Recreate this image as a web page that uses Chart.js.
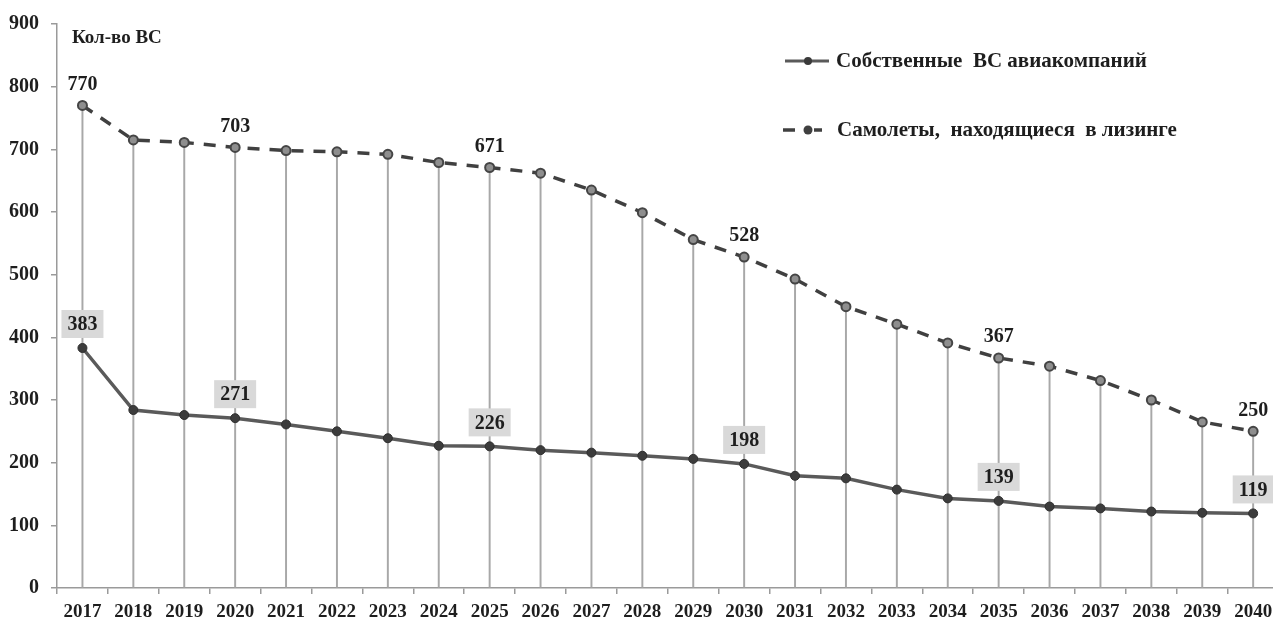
<!DOCTYPE html>
<html lang="ru">
<head>
<meta charset="utf-8">
<title>Кол-во ВС</title>
<script src="https://cdn.jsdelivr.net/npm/chart.js@4.4.1/dist/chart.umd.min.js"></script>
<style>
  html, body { margin: 0; padding: 0; background: #fff; overflow: hidden; }
</style>
</head>
<body>
<canvas id="myChart" width="1273" height="619"></canvas>
<script>
// годы прогноза
const years = [2017, 2018, 2019, 2020, 2021, 2022, 2023, 2024, 2025, 2026, 2027, 2028,
               2029, 2030, 2031, 2032, 2033, 2034, 2035, 2036, 2037, 2038, 2039, 2040];

// собственные ВС авиакомпаний
const ownFleet = [383, 284, 276, 271, 261, 250, 239, 227, 226, 220, 216, 211,
                  206, 198, 179, 175, 157, 143, 139, 130, 127, 122, 120, 119];

// самолеты, находящиеся в лизинге
const leasedFleet = [770, 715, 711, 703, 698, 696, 692, 679, 671, 662, 635, 599,
                     556, 528, 493, 449, 421, 391, 367, 354, 331, 300, 265, 250];

// подписи значений (индексы годов)
const labelIdx = [0, 3, 8, 13, 18, 23];

const yTicks = [0, 100, 200, 300, 400, 500, 600, 700, 800, 900];

const seriesNames = ['Собственные  ВС авиакомпаний', 'Самолеты,  находящиеся  в лизинге'];
const axisTitle = 'Кол-во ВС';

const FONT = '"Liberation Serif", "Times New Roman", serif';
const axisColor = '#9a9a9a';

const toPoints = vals => vals.map((v, i) => ({ x: years[i], y: v }));

// подписи значений над точками
const valueLabels = {
    id: 'valueLabels',
    afterDatasetsDraw(chart) {
        const ctx = chart.ctx;
        ctx.save();
        ctx.font = 'bold 20px ' + FONT;
        ctx.textAlign = 'center';
        ctx.textBaseline = 'middle';

        const own = chart.getDatasetMeta(2).data;
        const leased = chart.getDatasetMeta(1).data;
        labelIdx.forEach(i => {
            // собственные — в серой плашке
            const p = own[i];
            const txt = String(ownFleet[i]);
            const w = ctx.measureText(txt).width + 12;
            const h = 28;
            ctx.fillStyle = '#d9d9d9';
            ctx.fillRect(p.x - w / 2, p.y - 10 - h, w, h);
            ctx.fillStyle = '#1e1e1e';
            ctx.fillText(txt, p.x, p.y - 10 - h / 2 + 1);

            // лизинг — просто текст
            const q = leased[i];
            ctx.fillText(String(leasedFleet[i]), q.x, q.y - 21);
        });
        ctx.restore();
    }
};

// легенда справа сверху и подпись оси
const sideLegend = {
    id: 'sideLegend',
    afterDraw(chart) {
        const ctx = chart.ctx;
        ctx.save();

        // подпись оси Y
        ctx.font = 'bold 19px ' + FONT;
        ctx.fillStyle = '#1e1e1e';
        ctx.textAlign = 'left';
        ctx.textBaseline = 'middle';
        ctx.fillText(axisTitle, 72, 38);

        ctx.font = 'bold 21px ' + FONT;

        // собственные ВС
        ctx.strokeStyle = '#5a5a5a';
        ctx.lineWidth = 3;
        ctx.beginPath();
        ctx.moveTo(785, 61);
        ctx.lineTo(829, 61);
        ctx.stroke();
        ctx.fillStyle = '#3a3a3a';
        ctx.beginPath();
        ctx.arc(808, 61, 4, 0, Math.PI * 2);
        ctx.fill();
        ctx.fillStyle = '#1e1e1e';
        ctx.fillText(seriesNames[0], 836, 62);

        // лизинг
        ctx.strokeStyle = '#404040';
        ctx.lineWidth = 3.5;
        ctx.beginPath();
        ctx.moveTo(783, 130);
        ctx.lineTo(795, 130);
        ctx.moveTo(814, 130);
        ctx.lineTo(822, 130);
        ctx.stroke();
        ctx.fillStyle = '#404040';
        ctx.beginPath();
        ctx.arc(808, 130, 4.5, 0, Math.PI * 2);
        ctx.fill();
        ctx.fillStyle = '#1e1e1e';
        ctx.fillText(seriesNames[1], 837, 131);

        ctx.restore();
    }
};

const ctx = document.getElementById('myChart').getContext('2d');
const myChart = new Chart(ctx, {
    type: 'line',
    data: {
        datasets: [
            {
                // вертикальные линии от точек лизинга к оси
                type: 'bar',
                data: toPoints(leasedFleet),
                backgroundColor: '#a8a8a8',
                barThickness: 1.3,
                order: 3
            },
            {
                label: seriesNames[1],
                data: toPoints(leasedFleet),
                borderColor: '#404040',
                borderWidth: 3.5,
                borderDash: [12, 10],
                pointRadius: 4.5,
                pointBackgroundColor: '#8e8e8e',
                pointBorderColor: '#454545',
                pointBorderWidth: 2,
                tension: 0,
                fill: false,
                order: 2
            },
            {
                label: seriesNames[0],
                data: toPoints(ownFleet),
                borderColor: '#5a5a5a',
                borderWidth: 3.5,
                pointRadius: 4.5,
                pointBackgroundColor: '#3c3c3c',
                pointBorderColor: '#2e2e2e',
                pointBorderWidth: 1,
                tension: 0,
                fill: false,
                order: 1
            }
        ]
    },
    options: {
        responsive: false,
        animation: false,
        layout: { autoPadding: false, padding: { top: 23, left: 0, right: 0, bottom: 0 } },
        plugins: {
            legend: { display: false },
            tooltip: { enabled: false }
        },
        scales: {
            x: {
                type: 'linear',
                offset: false,
                // полгода слева, справа ось обрезана краем
                min: 2016.5,
                max: 2040.39,
                afterBuildTicks(scale) { scale.ticks = years.map(v => ({ value: v })); },
                grid: { offset: true, drawOnChartArea: false, drawTicks: true, tickLength: 6, color: axisColor, lineWidth: 1.5 },
                border: { color: axisColor, width: 1.5 },
                ticks: {
                    color: '#1e1e1e',
                    font: { family: FONT, size: 19, weight: 'bold' },
                    padding: 7,
                    maxRotation: 0,
                    autoSkip: false,
                    callback: v => String(v)
                },
                afterFit(scale) {
                    scale.height = 31;
                    scale.paddingLeft = 0;
                    scale.paddingRight = 0;
                }
            },
            y: {
                min: 0,
                max: 900,
                afterBuildTicks(scale) { scale.ticks = yTicks.map(v => ({ value: v })); },
                grid: { drawOnChartArea: false, drawTicks: true, tickLength: 6, color: axisColor, lineWidth: 1.5 },
                border: { color: axisColor, width: 1.5 },
                ticks: { color: '#1e1e1e', font: { family: FONT, size: 20, weight: 'bold' }, padding: 12 },
                afterFit(scale) { scale.width = 57; }
            }
        }
    },
    plugins: [valueLabels, sideLegend]
});
</script>
</body>
</html>
